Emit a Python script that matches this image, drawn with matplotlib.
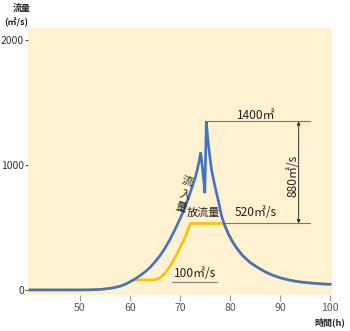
import matplotlib
matplotlib.use("Agg")
import matplotlib.pyplot as plt

plt.rcParams['font.family'] = ['Noto Sans CJK JP', 'DejaVu Sans']

# Inflow (流入量)
inflow_t = [40, 50, 52, 54, 55, 56, 57, 58, 59, 60, 61, 62, 63, 64, 65, 66, 67, 68, 69,
            70, 70.5, 71, 71.5, 72, 72.5, 73, 73.4, 73.7, 73.95, 74.1,
            74.3, 74.6, 74.95, 75.25,
            75.45, 75.7, 76.0, 76.3, 76.7, 77.2, 77.7, 78.3, 79, 79.7, 80.5, 81.3,
            82.5, 84, 85.5, 87, 88.5, 90, 91.5, 93, 94.6, 96.5, 98, 100]
inflow_q = [0, 0, 1, 4, 8, 13, 20, 30, 45, 65, 88, 115, 145, 180, 225, 275, 335, 405, 485,
            570, 615, 665, 720, 775, 835, 895, 955, 1010, 1060, 1100,
            1040, 930, 775, 1350,
            1250, 1150, 1050, 960, 880, 790, 705, 590, 510, 445, 385, 335,
            275, 220, 180, 145, 118, 97, 82, 70, 61, 54, 49, 45]

# Outflow (放流量)
outflow_t = [40, 50, 52, 54, 55, 56, 57, 58, 59, 60, 60.65, 64.7, 65.2, 65.7, 66.2, 66.7,
             67.2, 67.7, 68.2, 68.7, 69.2, 69.7, 70.2, 70.7, 71.2, 71.6, 71.9, 72.1,
             78.6, 79, 79.7, 80.5, 81.3, 82.5, 84, 85.5, 87, 88.5, 90, 91.5, 93,
             94.6, 96.5, 98, 100]
outflow_q = [0, 0, 1, 4, 8, 13, 20, 30, 45, 65, 80, 80, 84, 92, 104, 122,
             145, 172, 203, 238, 275, 315, 358, 395, 440, 485, 515, 532,
             532, 510, 445, 385, 335, 275, 220, 180, 145, 118, 97, 82, 70,
             61, 54, 49, 45]

xticks = [50, 60, 70, 80, 90, 100]
yticks = [0, 1000, 2000]

peak_q = 1350
release_q = 532
release_end_t = 78.6

fig = plt.figure(figsize=(3.5, 3.31), dpi=100)
ax = fig.add_axes([0.08, 0.109, 0.869, 0.806])
ax.set_facecolor('#FFF2D0')
for s in ax.spines.values():
    s.set_visible(False)

ax.plot(outflow_t, outflow_q, color='#FFC000', lw=1.9, zorder=3, solid_joinstyle='miter')
ax.plot(inflow_t, inflow_q, color='#4472C4', lw=1.9, zorder=4, solid_joinstyle='miter')

ax.set_xlim(39.6, 100.4)
ax.set_ylim(-40, 2096)
ax.set_xticks(xticks)
ax.set_yticks(yticks)
ax.tick_params(axis='x', direction='out', length=4, width=0.8, color='#999999',
               labelsize=7.6, labelcolor='#555555', pad=1.5)
ax.tick_params(axis='y', direction='out', length=2.5, width=0.8, color='#555555',
               labelsize=7.5, labelcolor='#333333', pad=0.5)

# annotation lines
lc = '#777777'
ax.plot([75.0, 96.0], [peak_q, peak_q], color=lc, lw=0.8, zorder=2)
ax.plot([release_end_t, 96.0], [release_q, release_q], color=lc, lw=0.8, zorder=2)
ax.annotate('', xy=(93.7, peak_q), xytext=(93.7, release_q),
            arrowprops=dict(arrowstyle='<|-|>', color='#333333', lw=0.7,
                            mutation_scale=5, shrinkA=0, shrinkB=0))
ax.plot([68.3, 77.3], [66, 66], color='#888888', lw=0.9, zorder=2)

tc = '#222222'
fs = 8.6
ax.text(85.2, 1398, '1400㎡', ha='center', va='center', fontsize=fs, color=tc)
ax.text(85.1, 616, '520㎡/s', ha='center', va='center', fontsize=fs, color=tc)
ax.text(92.6, 912, '880㎡/s', ha='center', va='center', fontsize=fs, color=tc, rotation=90)
ax.text(73.0, 128, '100㎡/s', ha='center', va='center', fontsize=fs, color=tc)
ax.text(74.6, 616, '放流量', ha='center', va='center', fontsize=8.0, color=tc, zorder=5)
for ch, (x, y) in zip('流入量', [(71.4, 866), (70.9, 760), (70.2, 660)]):
    ax.text(x, y, ch, ha='center', va='center', fontsize=8.0, color=tc, rotation=-15, zorder=5)

fig.text(21.5 / 350, 1 - 8.5 / 331, '流量', ha='center', va='center', fontsize=6.5,
         fontweight='bold', color='#222222')
fig.text(16.7 / 350, 1 - 22.5 / 331, '(㎡/s)', ha='center', va='center', fontsize=6.5,
         fontweight='bold', color='#222222')
fig.text(330 / 350, 1 - 322 / 331, '時間(h)', ha='center', va='center', fontsize=6.5,
         fontweight='bold', color='#222222')

fig.savefig('out.png', dpi=100, facecolor='white')
